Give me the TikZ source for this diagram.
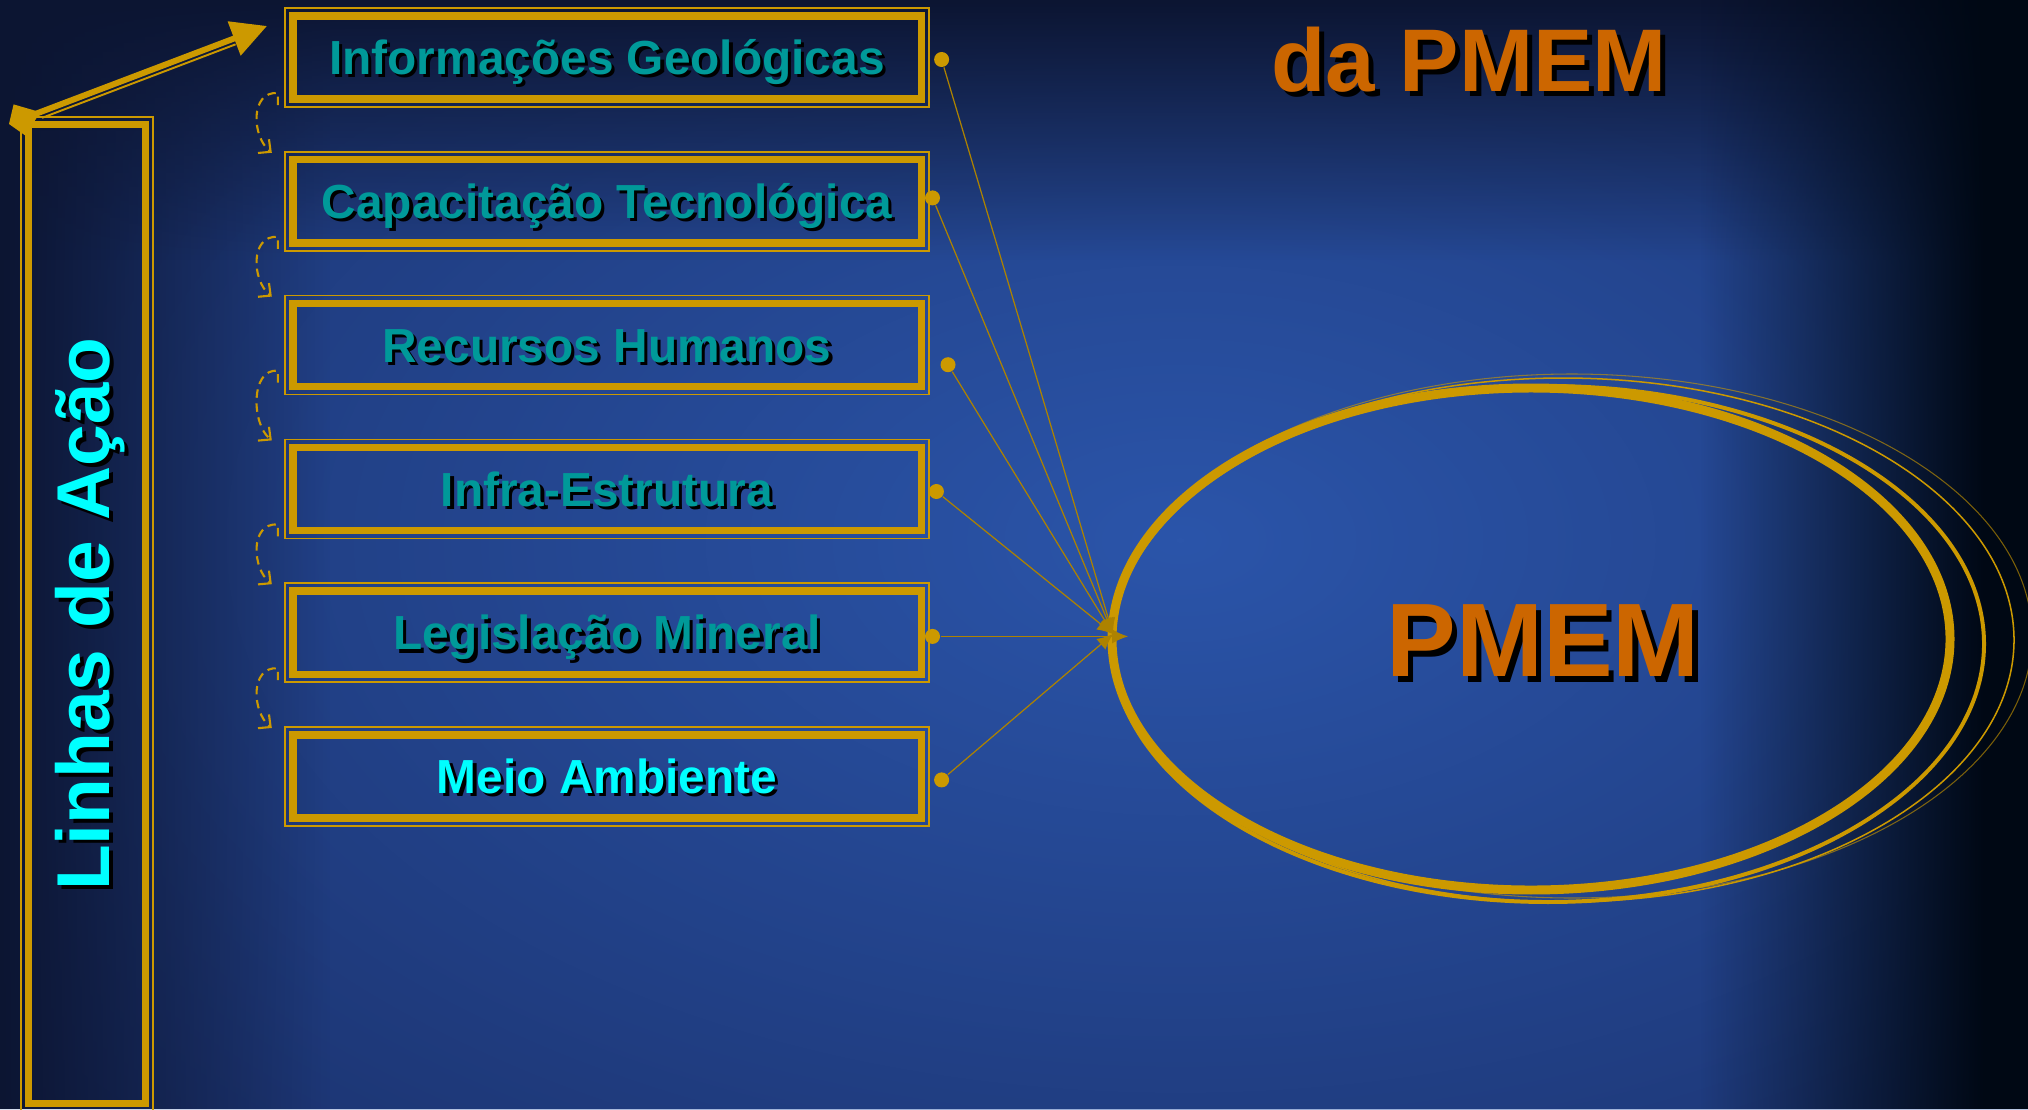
\documentclass[tikz,border=0pt]{standalone}
\usepackage{fontspec}
\setmainfont{Liberation Sans}
\usetikzlibrary{arrows.meta,calc,fadings}

\definecolor{gold}{HTML}{CC9900}
\definecolor{tealtxt}{HTML}{009999}
\definecolor{cyantxt}{HTML}{00FFFF}
\definecolor{orangetxt}{HTML}{CC6600}
\definecolor{navybase}{HTML}{17295E}
\definecolor{navyglow}{HTML}{2B55AA}
\definecolor{navydark}{HTML}{0C1532}
\definecolor{edgeblack}{HTML}{000814}

\tikzfading[name=glowfade, inner color=transparent!0, outer color=transparent!100]
\tikzfading[name=fromleft, left color=transparent!0, right color=transparent!100]
\tikzfading[name=toright, left color=transparent!100, right color=transparent!0]
\tikzfading[name=fromtop, top color=transparent!0, bottom color=transparent!100]

% text with a black drop shadow
\newcommand{\shtext}[2][0.9pt]{\leavevmode\rlap{\kern#1\raisebox{-#1}{\color{black}#2}}#2}
\newcommand{\shtextr}[2][1.1pt]{\leavevmode\rlap{\kern-#1\raisebox{-#1}{\color{black}#2}}#2}

\begin{document}
\begin{tikzpicture}[x=0.01cm, y=-0.01cm,
    actbox/.style={draw=gold, line width=2.1pt, outer sep=0pt, inner sep=0pt,
      minimum width=6.28cm, minimum height=0.83cm, text=tealtxt,
      text height=9.74pt, text depth=0pt,
      font={\fontsize{13.6}{16}\selectfont\bfseries}},
    boxrim/.style={draw=gold, line width=0.45pt},
    dot/.style={circle, fill=gold, inner sep=0pt, minimum size=0.15cm},
    feed/.style={draw=gold!85!black, line width=0.35pt, -{Latex[length=4.5pt,width=4pt]}},
    link/.style={draw=gold, line width=0.6pt, dash pattern=on 2.4pt off 1.6pt,
      -{Straight Barb[length=2.6pt,width=5pt]}},
    bigtxt/.style={text=orangetxt, inner sep=0pt, text depth=0pt}
  ]
  \useasboundingbox (0,0) rectangle (2028,1109);

  % background
  \begin{scope}
    \clip (0,0) rectangle (2028,1109);
    \fill[navybase] (0,0) rectangle (2028,1109);
    \fill[navyglow, path fading=glowfade] (1180,540) ellipse [x radius=1900, y radius=1100];
    \fill[navydark, path fading=fromleft] (0,0) rectangle (330,1109);
    \fill[navydark, path fading=fromtop] (0,0) rectangle (2028,260);
    \fill[edgeblack, path fading=toright] (1700,0) rectangle (1985,1109);
    \fill[edgeblack] (1985,0) rectangle (2028,1109);
  \end{scope}

  % title
  \node[bigtxt, text height=18.1pt, font={\fontsize{25.3}{30}\selectfont\bfseries}] (titulo) at (1469,60) {\shtext[1.4pt]{da PMEM}};

  % left column
  \node[draw=gold, line width=2pt, outer sep=0pt, minimum width=1.16cm, minimum height=9.78cm] (linhas) at (87,614) {};
  \draw[boxrim] ($(linhas.north west)+(-8,-8)$) rectangle ($(linhas.south east)+(8,8)$);
  \node[rotate=90, text=cyantxt, inner sep=0pt, font={\fontsize{21.3}{26}\selectfont\bfseries}] (lintxt) at (92,614) {\shtextr{Linhas de Ação}};

  \coordinate (atail) at (9,124);
  \coordinate (ahead) at (267,26);
  \draw[gold, line width=1.7pt, {Kite[length=9.5pt,width=9.5pt,inset=6.3pt]}-{Triangle[length=10pt,width=10pt]}] (atail) -- (ahead);
  \draw[gold, line width=0.55pt] ($(atail)!0.12!(ahead)+(2.1,5.6)$) -- ($(atail)!0.87!(ahead)+(2.1,5.6)$);

  % action lines
  \node[actbox] (info) at (607,57.5) {\shtext{Informações Geológicas}};
  \node[actbox] (capa) at (607,201.3) {\shtext{Capacitação Tecnológica}};
  \node[actbox] (rh) at (607,345.1) {\shtext{Recursos Humanos}};
  \node[actbox] (infra) at (607,488.9) {\shtext{Infra-Estrutura}};
  \node[actbox] (leg) at (607,632.7) {\shtext{Legislação Mineral}};
  \node[actbox, text=cyantxt] (meio) at (607,776.5) {\shtext{Meio Ambiente}};
  \draw[boxrim] ($(info.north west)+(-8,-8)$) rectangle ($(info.south east)+(8,8)$);
  \draw[boxrim] ($(capa.north west)+(-8,-8)$) rectangle ($(capa.south east)+(8,8)$);
  \draw[boxrim] ($(rh.north west)+(-8,-8)$) rectangle ($(rh.south east)+(8,8)$);
  \draw[boxrim] ($(infra.north west)+(-8,-8)$) rectangle ($(infra.south east)+(8,8)$);
  \draw[boxrim] ($(leg.north west)+(-8,-8)$) rectangle ($(leg.south east)+(8,8)$);
  \draw[boxrim] ($(meio.north west)+(-8,-8)$) rectangle ($(meio.south east)+(8,8)$);

  % dashed links between boxes
  \draw[link] ($(info.south west)+(-15,6)$) -- ++(0,-12) .. controls +(-28,-2) and +(-20,-16) .. ($(capa.north west)+(-21,-7)$);
  \draw[link] ($(capa.south west)+(-15,6)$) -- ++(0,-12) .. controls +(-28,-2) and +(-20,-16) .. ($(rh.north west)+(-21,-7)$);
  \draw[link] ($(rh.south west)+(-15,-4)$) -- ++(0,-12) .. controls +(-28,-2) and +(-20,-16) .. ($(infra.north west)+(-21,-7)$);
  \draw[link] ($(infra.south west)+(-15,6)$) -- ++(0,-12) .. controls +(-28,-2) and +(-20,-16) .. ($(leg.north west)+(-21,-7)$);
  \draw[link] ($(leg.south west)+(-15,6)$) -- ++(0,-12) .. controls +(-28,-2) and +(-20,-16) .. ($(meio.north west)+(-21,-7)$);

  % PMEM rings
  \draw[gold, line width=0.3pt, opacity=0.6] (1572,636) ellipse [x radius=460, y radius=262];
  \draw[gold, line width=0.43pt] (1563,640) ellipse [x radius=451, y radius=262];
  \draw[gold, line width=1.13pt] (1548,644) ellipse [x radius=436, y radius=258];
  \draw[gold, line width=2.55pt] (1531,639) ellipse [x radius=419, y radius=251];
  \node[bigtxt, text height=21.3pt, font={\fontsize{29.7}{34}\selectfont\bfseries}] (pmem) at (1543,639) {\shtext[1.6pt]{PMEM}};

  % feeds into PMEM
  \node[dot] (dinfo) at (941.6,59.5) {};
  \node[dot] (dcapa) at (932.5,197.9) {};
  \node[dot] (drh) at (948,364.7) {};
  \node[dot] (dinfra) at (936.4,491.5) {};
  \node[dot] (dleg) at (932.5,636.4) {};
  \node[dot] (dmeio) at (941.6,779.9) {};
  \coordinate (hub) at (1113,634);
  \coordinate (hubtip) at (1128,636.4);
  \draw[feed] (dinfo) -- (hub);
  \draw[feed] (dcapa) -- (hub);
  \draw[feed] (drh) -- (hub);
  \draw[feed] (dinfra) -- (hub);
  \draw[feed] (dleg) -- (hubtip);
  \draw[feed] (dmeio) -- (hub);
\end{tikzpicture}
\end{document}
